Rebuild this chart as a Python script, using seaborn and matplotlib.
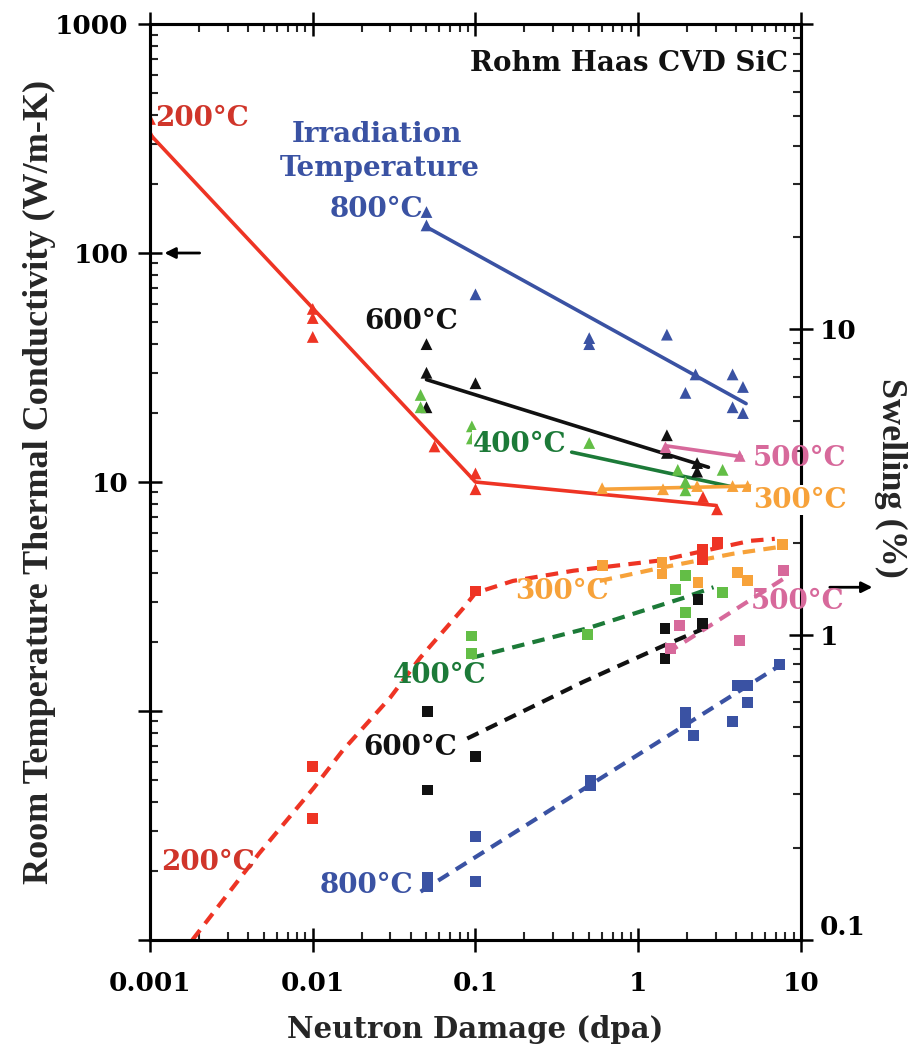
import matplotlib
matplotlib.use("Agg")
import matplotlib.pyplot as plt
import matplotlib.ticker as mticker
import seaborn as sns

sns.set_style("ticks")
plt.rcParams['font.family'] = ['DejaVu Serif']
plt.rcParams['font.weight'] = 'bold'

# colours
red = '#ee3424'
red_txt = '#d0352a'
blue = '#3a52a3'
black = '#111111'
green_pt = '#63be46'
green_ln = '#1c7a38'
pink = '#d7699b'
orange = '#f7a23a'

# ---- thermal conductivity (W/m-K) vs dose (dpa), triangles + solid fits
k200_dpa = [0.001, 0.001, 0.01, 0.01, 0.01, 0.056, 0.1, 0.1, 2.5, 3.05]
k200 = [385, 330, 57, 52, 43, 14.3, 10.9, 9.3, 8.6, 7.6]
k200_fit_dpa = [0.001, 0.1, 3.0]
k200_fit = [330, 10, 7.9]

k800_dpa = [0.05, 0.05, 0.1, 0.5, 0.5, 1.5, 1.95, 2.25, 3.8, 3.8, 4.4, 4.4]
k800 = [151, 132, 66, 42.5, 40, 44, 24.5, 29.5, 29.5, 21.2, 26, 20]
k800_fit_dpa = [0.05, 4.6]
k800_fit = [130, 22]

k600_dpa = [0.05, 0.05, 0.05, 0.1, 1.5, 1.5, 2.3, 2.3]
k600 = [40, 30, 21.2, 27, 16, 13.4, 12.1, 11.1]
k600_fit_dpa = [0.05, 2.7]
k600_fit = [28, 11.6]

k400_dpa = [0.046, 0.046, 0.095, 0.095, 0.5, 1.75, 1.95, 1.95, 3.3]
k400 = [24, 21.2, 17.5, 15.5, 14.8, 11.3, 10.0, 9.2, 11.3]
k400_fit_dpa = [0.39, 3.85]
k400_fit = [13.5, 9.5]

k500_dpa = [1.47, 4.2]
k500 = [14.2, 13.0]
k500_fit_dpa = [1.47, 4.3]
k500_fit = [14.4, 12.9]

k300_dpa = [0.6, 1.42, 2.3, 3.8, 4.7]
k300 = [9.4, 9.3, 9.6, 9.6, 9.6]
k300_fit_dpa = [0.6, 4.9]
k300_fit = [9.3, 9.6]

# ---- swelling (%) vs dose (dpa), squares + dashed fits
s200_dpa = [0.01, 0.01, 0.1, 2.47, 2.47, 3.05]
s200 = [0.37, 0.25, 1.39, 1.9, 1.76, 2.0]
s200_fit_dpa = [0.00182, 0.00468, 0.0102, 0.0153, 0.0299, 0.0457, 0.084,
                0.1, 0.17, 0.4, 1.36, 4.9, 6.9]
s200_fit = [0.1, 0.192, 0.316, 0.418, 0.622, 0.84, 1.22, 1.37, 1.5, 1.62,
            1.75, 2.03, 2.06]

s300_dpa = [0.6, 1.4, 1.4, 2.33, 4.05, 4.7, 7.65]
s300 = [1.68, 1.72, 1.58, 1.48, 1.6, 1.5, 1.98]
s300_fit_dpa = [0.58, 1.41, 3.8, 8.0]
s300_fit = [1.5, 1.66, 1.84, 1.95]

s400_dpa = [0.095, 0.095, 0.485, 1.69, 1.94, 1.94, 3.28]
s400 = [0.99, 0.87, 1.0, 1.41, 1.56, 1.18, 1.37]
s400_fit_dpa = [0.095, 0.49, 1.9, 2.9]
s400_fit = [0.84, 1.05, 1.32, 1.43]

s600_dpa = [0.051, 0.051, 0.1, 1.46, 1.46, 2.33, 2.47]
s600 = [0.56, 0.31, 0.40, 1.05, 0.835, 1.30, 1.09]
s600_fit_dpa = [0.089, 0.458, 1.43, 2.78]
s600_fit = [0.457, 0.70, 0.92, 1.07]

s500_dpa = [1.57, 1.79, 4.2, 7.8]
s500 = [0.9, 1.07, 0.955, 1.62]
s500_fit_dpa = [1.5, 8.2]
s500_fit = [0.87, 1.55]

s800_dpa = [0.051, 0.051, 0.1, 0.1, 0.51, 0.51, 1.94, 1.94, 2.2, 3.8, 4.05,
            4.7, 4.7, 7.4]
s800 = [0.16, 0.15, 0.218, 0.155, 0.333, 0.32, 0.556, 0.515, 0.468, 0.52,
        0.68, 0.68, 0.6, 0.80]
s800_fit_dpa = [0.046, 8.2]
s800_fit = [0.144, 0.82]

x_ticks = [0.001, 0.01, 0.1, 1, 10]
x_labels = ['0.001', '0.01', '0.1', '1', '10']
k_ticks = [0.1, 1, 10, 100, 1000]
k_labels = ['', '', '10', '100', '1000']
s_ticks = [0.1, 1, 10, 100]
s_labels = ['0.1', '1', '10', '']

fig = plt.figure(figsize=(9.23, 10.49), dpi=100)
ax = fig.add_axes([0.1625, 0.1039, 0.7053, 0.8732])
ax.set_xscale('log')
ax.set_yscale('log')
ax2 = ax.twinx()
ax2.set_yscale('log')

solid = [(k200_fit_dpa, k200_fit, red), (k800_fit_dpa, k800_fit, blue),
         (k600_fit_dpa, k600_fit, black), (k400_fit_dpa, k400_fit, green_ln),
         (k500_fit_dpa, k500_fit, pink), (k300_fit_dpa, k300_fit, orange)]
for xs, ys, c in solid:
    sns.lineplot(x=xs, y=ys, ax=ax, color=c, lw=2.6, sort=False,
                 estimator=None)

tri = [(k200_dpa, k200, red), (k800_dpa, k800, blue), (k600_dpa, k600, black),
       (k400_dpa, k400, green_pt), (k500_dpa, k500, pink),
       (k300_dpa, k300, orange)]
for xs, ys, c in tri:
    sns.scatterplot(x=xs, y=ys, ax=ax, color=c, marker='^', s=72,
                    edgecolor='none', zorder=3)

dashed = [(s200_fit_dpa, s200_fit, red), (s300_fit_dpa, s300_fit, orange),
          (s400_fit_dpa, s400_fit, green_ln), (s600_fit_dpa, s600_fit, black),
          (s500_fit_dpa, s500_fit, pink), (s800_fit_dpa, s800_fit, blue)]
for xs, ys, c in dashed:
    sns.lineplot(x=xs, y=ys, ax=ax2, color=c, lw=3, sort=False,
                 estimator=None, linestyle=(0, (3, 2)))

sq = [(s200_dpa, s200, red), (s300_dpa, s300, orange),
      (s400_dpa, s400, green_pt), (s600_dpa, s600, black),
      (s500_dpa, s500, pink), (s800_dpa, s800, blue)]
for xs, ys, c in sq:
    sns.scatterplot(x=xs, y=ys, ax=ax2, color=c, marker='s', s=62,
                    edgecolor='none', zorder=3)

ax.set_xlim(0.001, 10)
ax.set_ylim(0.1, 1000)
ax2.set_ylim(0.1, 100)

ax.xaxis.set_major_locator(mticker.FixedLocator(x_ticks))
ax.xaxis.set_major_formatter(mticker.FixedFormatter(x_labels))
ax.xaxis.set_minor_locator(mticker.LogLocator(base=10, subs=range(2, 10)))
ax.xaxis.set_minor_formatter(mticker.NullFormatter())
ax.yaxis.set_major_locator(mticker.FixedLocator(k_ticks))
ax.yaxis.set_major_formatter(mticker.FixedFormatter(k_labels))
ax.yaxis.set_minor_locator(mticker.LogLocator(base=10, subs=range(2, 10)))
ax.yaxis.set_minor_formatter(mticker.NullFormatter())
ax2.yaxis.set_major_locator(mticker.FixedLocator(s_ticks))
ax2.yaxis.set_major_formatter(mticker.FixedFormatter(s_labels))
ax2.yaxis.set_minor_locator(mticker.LogLocator(base=10, subs=range(2, 10)))
ax2.yaxis.set_minor_formatter(mticker.NullFormatter())

for a in (ax, ax2):
    a.tick_params(which='major', direction='inout', length=17, width=1.8,
                  labelsize=19, colors='black')
    a.tick_params(which='minor', direction='in', length=6, width=1.5)
    for sp in a.spines.values():
        sp.set_linewidth(2.2)
        sp.set_color('black')
ax.tick_params(axis='x', which='both', top=True, bottom=True)
ax.tick_params(axis='x', which='major', pad=14)
ax.tick_params(axis='y', which='both', right=False, pad=7)
ax2.tick_params(axis='y', which='major', pad=5)

# the 0.1 swelling label sits just above its tick
fig.canvas.draw()
ax2.get_yticklabels()[0].set_va('bottom')

ax.set_xlabel('Neutron Damage (dpa)', fontsize=21, fontweight='bold',
              va='center')
ax.xaxis.set_label_coords(0.5, -0.098)
ax.set_ylabel('Room Temperature Thermal Conductivity (W/m-K)',
              family='Liberation Serif', fontsize=26, fontweight='bold',
              va='center')
ax.yaxis.set_label_coords(-0.169, 0.5)
ax2.set_ylabel('Swelling (%)', family='Liberation Serif', fontsize=26,
               fontweight='bold', rotation=270, va='center')
ax2.yaxis.set_label_coords(1.137, 0.504)

tr = ax2.transAxes
def lab(x, y, s, c, ha='center', box=False):
    kw = dict(transform=tr, ha=ha, va='center', color=c, fontsize=20,
              fontweight='bold', zorder=10, clip_on=False)
    if box:
        kw['bbox'] = dict(facecolor='white', edgecolor='none', pad=1)
    ax2.text(x, y, s, **kw)

lab(0.980, 0.957, 'Rohm Haas CVD SiC', black, ha='right')
lab(0.349, 0.879, 'Irradiation', blue)
lab(0.353, 0.842, 'Temperature', blue)
lab(0.419, 0.797, '800°C', blue, ha='right')
lab(0.008, 0.897, '200°C', red_txt, ha='left')
lab(0.401, 0.675, '600°C', black)
lab(0.568, 0.541, '400°C', green_ln, box=True)
lab(0.998, 0.526, '500°C', pink)
lab(0.998, 0.480, '300°C', orange, box=True)
lab(0.633, 0.380, '300°C', orange)
lab(0.995, 0.370, '500°C', pink)
lab(0.445, 0.289, '400°C', green_ln)
lab(0.399, 0.210, '600°C', black)
lab(0.089, 0.085, '200°C', red_txt)
lab(0.333, 0.059, '800°C', blue)

arrow = dict(arrowstyle='-|>', color='black', lw=2, mutation_scale=16)
ax.annotate('', xy=(0.00118, 100), xytext=(0.0021, 100), arrowprops=arrow)
ax2.annotate('', xy=(1.114, 1.43), xycoords=('axes fraction', 'data'),
             xytext=(1.04, 1.43), textcoords=('axes fraction', 'data'),
             arrowprops=arrow, annotation_clip=False)

fig.savefig('out.png', dpi=100)
